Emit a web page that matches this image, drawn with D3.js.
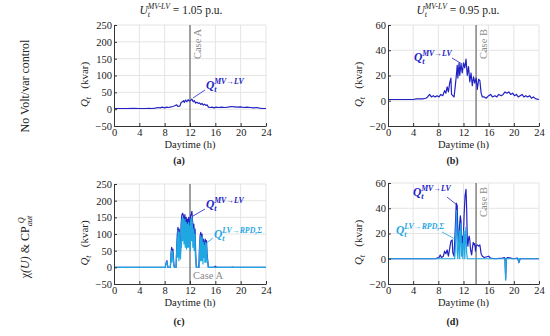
<!DOCTYPE html>
<html>
  <head>
    <title></title>
    <style>
      body, html{
        margin: 0;
        width: 100%;
        height: 100%;
        background: #fff;
      }
      svg text{
        font-family: "Liberation Serif", "DejaVu Serif", serif;
        fill: #222;
      }
      .grid line{
        stroke: #e4e4e4;
        stroke-width: 1;
      }
      .axis path, .axis line{
        stroke: #333;
      }
      .axis text{
        font-size: 10.5px;
      }
    </style>
  </head>
  <body>
    <script src="https://cdn.jsdelivr.net/npm/d3@7"></script>
    <script>

// time [h], reactive power [kvar]
var xTicks = [0, 4, 8, 12, 16, 20, 24]
var yTicksA = [-50, 0, 50, 100, 150, 200, 250]
var yTicksB = [-20, 0, 20, 40, 60]

var mvA = [[0,2],[1,2],[2,2],[3,2.5],[4,2],[5,2],[5.5,2.5],[6,2],[6.5,3],[7,5],[7.3,4],[7.6,6],[8,4],[8.3,6],[8.6,5],[9,7],[9.3,8],[9.6,10],[9.9,13],[10.1,8],[10.4,9],[10.6,20],[10.8,22],[11,25],[11.1,20],[11.3,27],[11.5,22],[11.7,28],[11.9,24],[12.1,26],[12.3,30],[12.5,22],[12.7,25],[12.9,18],[13.1,21],[13.3,17],[13.5,19],[13.7,14],[13.9,17],[14.1,12],[14.3,15],[14.5,11],[14.7,13],[14.9,6],[15.2,5],[15.5,6],[15.8,4],[16.1,6],[16.5,5],[17,6],[17.5,5],[18,6],[18.5,8],[19,7],[19.5,6],[20,7],[20.5,5],[21,6],[21.5,5],[22,4],[22.5,5],[23,3],[23.5,2],[24,2]]

var mvB = [[0,1],[1,1],[2,1],[3,1],[4,1],[4.5,1.5],[5,1.5],[5.5,1.5],[6,2],[6.3,3],[6.6,5],[6.9,3],[7.2,4],[7.5,3],[7.8,4],[8.1,3],[8.4,5],[8.7,4],[9,8],[9.2,6],[9.4,11],[9.6,7],[9.8,14],[10,18],[10.1,5],[10.3,4],[10.5,3],[10.7,12],[10.9,22],[11,28],[11.1,18],[11.3,30],[11.4,20],[11.6,29],[11.8,22],[12,30],[12.2,26],[12.4,33],[12.6,20],[12.8,27],[13,15],[13.2,22],[13.4,12],[13.6,19],[13.8,14],[14,18],[14.2,9],[14.4,17],[14.6,16],[14.8,6],[15,3],[15.3,3],[15.6,2],[16,4],[16.3,5],[16.6,3],[17,4],[17.3,3],[17.6,5],[18,4],[18.3,5],[18.6,7],[18.9,6],[19.2,7],[19.5,5],[19.8,6],[20.1,4],[20.4,5],[20.7,3],[21,4],[21.3,5],[21.6,3],[21.9,4],[22.2,3],[22.5,4],[22.8,2],[23.1,3],[23.5,1.5],[24,1]]

var mvC = [[0,0],[8.1,0],[8.2,12],[8.35,20],[8.5,0],[8.9,0],[9,40],[9.1,60],[9.2,45],[9.3,55],[9.45,10],[9.55,0],[9.8,0],[9.9,60],[10,100],[10.1,120],[10.2,90],[10.3,115],[10.4,60],[10.5,40],[10.6,130],[10.7,155],[10.8,162],[10.9,160],[11,150],[11.1,140],[11.2,158],[11.3,110],[11.4,150],[11.5,95],[11.6,145],[11.7,120],[11.8,150],[11.9,80],[12,140],[12.1,155],[12.2,160],[12.3,168],[12.4,140],[12.5,110],[12.6,130],[12.7,95],[12.8,115],[12.9,40],[13,0],[13.4,0],[13.5,60],[13.6,95],[13.7,105],[13.8,80],[13.9,100],[14,55],[14.1,85],[14.2,40],[14.3,75],[14.4,85],[14.5,70],[14.6,80],[14.7,40],[14.8,20],[14.9,0],[15.8,0],[16,3],[16.2,0],[18.5,0],[18.7,1],[18.9,0],[24,0]]

var lvC = [[0,0],[8.1,0],[8.2,10],[8.35,17],[8.5,0],[8.9,0],[9,35],[9.1,50],[9.15,15],[9.25,48],[9.45,5],[9.55,0],[9.8,0],[9.9,50],[10,90],[10.05,30],[10.1,110],[10.2,75],[10.25,20],[10.3,105],[10.4,40],[10.5,25],[10.6,120],[10.65,60],[10.7,140],[10.8,150],[10.85,80],[10.9,148],[11,130],[11.05,70],[11.1,125],[11.2,145],[11.25,60],[11.3,100],[11.4,135],[11.45,55],[11.5,85],[11.6,130],[11.65,60],[11.7,105],[11.8,135],[11.85,60],[11.9,70],[12,125],[12.05,50],[12.1,140],[12.2,145],[12.25,80],[12.3,150],[12.4,120],[12.45,60],[12.5,95],[12.6,115],[12.65,50],[12.7,85],[12.8,100],[12.85,30],[12.9,30],[13,0],[13.45,0],[13.5,50],[13.6,85],[13.65,20],[13.7,95],[13.8,65],[13.85,20],[13.9,90],[14,45],[14.05,10],[14.1,75],[14.2,30],[14.3,65],[14.35,15],[14.4,75],[14.5,60],[14.55,15],[14.6,70],[14.7,30],[14.8,15],[14.9,0],[24,0]]

var mvD = [[0,0],[7.5,0],[7.8,0.5],[8.1,1],[8.3,3],[8.5,1],[8.8,2],[9,6],[9.2,4],[9.4,7],[9.6,2],[9.8,8],[10,14],[10.2,15],[10.3,5],[10.5,2],[10.7,25],[10.85,44],[11,42],[11.1,20],[11.2,8],[11.35,25],[11.5,34],[11.6,30],[11.7,12],[11.8,18],[11.9,8],[12,20],[12.1,35],[12.25,50],[12.4,55],[12.5,40],[12.6,15],[12.7,10],[12.8,16],[12.9,18],[13,15],[13.1,8],[13.2,5],[13.3,3],[13.4,8],[13.55,13],[13.7,11],[13.8,12],[13.9,6],[14,10],[14.2,11],[14.4,10],[14.6,11],[14.8,4],[15,2],[15.3,1],[16,2],[16.3,0.5],[17,0],[18.2,0.5],[18.5,1],[18.6,0],[18.7,-16],[18.8,0],[19,1],[19.5,0.5],[20,0],[20.6,0.5],[20.8,-3],[21,0],[24,0]]

var lvD = [[0,0],[10.6,0],[10.7,8],[10.8,25],[10.9,38],[11,5],[11.1,0],[11.2,10],[11.3,22],[11.4,0],[11.5,20],[11.6,28],[11.7,2],[11.8,12],[11.9,0],[12,15],[12.1,22],[12.2,0],[12.3,18],[12.4,25],[12.5,5],[12.6,0],[18.6,0],[18.7,-17],[18.8,0],[20.7,0],[20.8,-3],[20.9,0],[24,0]]

var darkBlue = '#2222c4', cyan = '#1fa7e2', caseGrey = '#8a8a8a'

var svg = d3.select('body').append('svg').attr('width', 550).attr('height', 336)

// sub/superscript helper: parts = [[text, 'n'|'sub'|'sup', style]]
// a 'sup' right after a 'sub' is stacked above it
function richText(g, x, y, parts, opts){
  var t = g.append('text').attr('x', x).attr('y', y)
    .attr('text-anchor', opts.anchor || 'start')
    .style('font-size', opts.size + 'px')
  if(opts.transform) t.attr('transform', opts.transform)
  if(opts.fill) t.style('fill', opts.fill)
  if(opts.weight) t.style('font-weight', opts.weight)
  var shift = 0, prev = null, subLen = 0
  parts.forEach(function(p){
    var s = t.append('tspan').text(p[0])
    var dy = 0
    if(p[1] == 'sub'){
      dy = 0.28 * opts.size - shift; shift = 0.28 * opts.size
      s.style('font-size', (opts.size * 0.7) + 'px')
      subLen = p[0].length * opts.size * 0.7 * 0.3
    }else if(p[1] == 'sup'){
      dy = -0.45 * opts.size - shift; shift = -0.45 * opts.size
      s.style('font-size', (opts.size * 0.68) + 'px')
      if(prev == 'sub') s.attr('dx', -subLen)
    }else{ dy = -shift; shift = 0 }
    if(dy) s.attr('dy', dy)
    if(p[2] == 'i') s.style('font-style', 'italic')
    prev = p[1]
  })
  return t
}

function panel(o){
  var x = d3.scaleLinear().domain([0, 24]).range([o.left, o.right])
  var y = d3.scaleLinear().domain(o.ydom).range([o.bottom, o.top])
  var g = svg.append('g')

  var grid = g.append('g').attr('class', 'grid')
  grid.selectAll('.gx').data(xTicks.slice(1)).enter().append('line')
    .attr('x1', x).attr('x2', x).attr('y1', o.top).attr('y2', o.bottom)
  grid.selectAll('.gy').data(o.yticks.slice(1)).enter().append('line')
    .attr('x1', o.left).attr('x2', o.right).attr('y1', y).attr('y2', y)

  var line = d3.line().x(function(d){ return x(d[0]) }).y(function(d){ return y(d[1]) })

  g.append('line').attr('x1', x(o.caseAt)).attr('x2', x(o.caseAt))
    .attr('y1', o.top).attr('y2', o.bottom)
    .style('stroke', caseGrey).style('stroke-width', 1.6)

  o.series.forEach(function(s){
    g.append('path').datum(s.data).attr('d', line)
      .style('fill', 'none').style('stroke', s.color).style('stroke-width', 1.2)
      .style('stroke-linejoin', 'round')
  })

  g.append('g').attr('class', 'axis').attr('transform', 'translate(0,' + o.bottom + ')')
    .call(d3.axisBottom(x).tickValues(xTicks).tickSize(-3).tickPadding(3).tickSizeOuter(0))
  g.append('g').attr('class', 'axis').attr('transform', 'translate(' + o.left + ',0)')
    .call(d3.axisLeft(y).tickValues(o.yticks).tickSize(-3).tickPadding(2).tickSizeOuter(0)
      .tickFormat(function(d){ return d < 0 ? '\u2212' + (-d) : d }))
  g.selectAll('.axis').attr('font-family', null)
  g.selectAll('.axis text').style('fill', '#222')

  g.append('text').attr('x', (o.left + o.right) / 2).attr('y', o.bottom + 22)
    .attr('text-anchor', 'middle').style('font-size', '10.5px').text('Daytime (h)')

  var cy = (o.top + o.bottom) / 2 + 9, lx = o.left - 26
  richText(g, lx, cy, [['Q', 'n', 'i'], ['t', 'sub', 'i'], ['\u00a0\u00a0\u00a0(kvar)', 'n']],
    {size: 11, anchor: 'middle', transform: 'rotate(-90,' + lx + ',' + cy + ')'})

  g.append('text').attr('x', (o.left + o.right) / 2 - 11).attr('y', o.caption)
    .attr('text-anchor', 'middle').style('font-size', '10px').style('font-weight', 'bold').text(o.label)

  // case marker text
  var cx = x(o.caseAt)
  if(o.caseBottom){
    g.append('text').attr('x', cx + 3).attr('y', o.bottom - 5).style('font-size', '10.5px')
      .style('fill', caseGrey).text(o.caseText)
  }else{
    var ty = o.top + 4
    g.append('text').attr('x', cx + 11).attr('y', ty).attr('text-anchor', 'end')
      .attr('transform', 'rotate(-90,' + (cx + 11) + ',' + ty + ')')
      .style('font-size', '10.5px').style('fill', caseGrey).text(o.caseText)
  }

  o.notes.forEach(function(n){
    g.append('line').attr('x1', n.from[0]).attr('y1', n.from[1]).attr('x2', n.to[0]).attr('y2', n.to[1])
      .style('stroke', n.color).style('stroke-width', 0.8)
    richText(g, n.at[0], n.at[1], [['Q', 'n', 'i'], ['t', 'sub', 'i'], [n.sup, 'sup', 'i']],
      {size: 11.5, fill: n.color, weight: 'bold'})
  })
  return g
}

var mvNote = 'MV\u2192LV', lvNote = 'LV\u2192RPD,\u03a3'

panel({left: 114, right: 266, top: 25, bottom: 126, ydom: [-50, 250], yticks: yTicksA,
  caseAt: 12, caseText: 'Case A', caption: 164, label: '(a)',
  series: [{data: mvA, color: darkBlue}],
  notes: [{at: [206, 89], sup: mvNote, color: darkBlue, from: [205, 90], to: [193, 98]}]})

panel({left: 388, right: 539, top: 25, bottom: 126, ydom: [-20, 60], yticks: yTicksB,
  caseAt: 14, caseText: 'Case B', caption: 164, label: '(b)',
  series: [{data: mvB, color: darkBlue}],
  notes: [{at: [414, 61], sup: mvNote, color: darkBlue, from: [452, 58], to: [462, 64]}]})

panel({left: 114, right: 266, top: 184, bottom: 284, ydom: [-50, 250], yticks: yTicksA,
  caseAt: 12, caseText: 'Case A', caseBottom: true, caption: 325, label: '(c)',
  series: [{data: mvC, color: darkBlue}, {data: lvC, color: cyan}],
  notes: [{at: [206, 208], sup: mvNote, color: darkBlue, from: [205, 209], to: [193, 216]},
          {at: [214, 238], sup: lvNote, color: cyan, from: [213, 238], to: [205, 244]}]})

panel({left: 388, right: 539, top: 183, bottom: 284, ydom: [-20, 60], yticks: yTicksB,
  caseAt: 14, caseText: 'Case B', caption: 325, label: '(d)',
  series: [{data: mvD, color: darkBlue}, {data: lvD, color: cyan}],
  notes: [{at: [413, 196], sup: mvNote, color: darkBlue, from: [447, 197], to: [457, 205]},
          {at: [396, 234], sup: lvNote, color: cyan, from: [442, 232], to: [455, 239]}]})

// column titles
richText(svg, 181, 14, [['U', 'n', 'i'], ['t', 'sub', 'i'], ['MV-LV', 'sup', 'i'], ['\u00a0= 1.05 p.u.', 'n']],
  {size: 11.5, anchor: 'middle'})
richText(svg, 458, 14, [['U', 'n', 'i'], ['t', 'sub', 'i'], ['MV-LV', 'sup', 'i'], ['\u00a0= 0.95 p.u.', 'n']],
  {size: 11.5, anchor: 'middle'})

// row titles
svg.append('text').attr('x', 29).attr('y', 86).attr('text-anchor', 'middle')
  .attr('transform', 'rotate(-90,29,86)').style('font-size', '12px').text('No Volt/var control')
richText(svg, 29, 247, [['\u03c7', 'n'], ['(U)', 'n', 'i'], ['\u00a0& CP', 'n'], ['aut', 'sub', 'i'], ['Q', 'sup', 'i']],
  {size: 12, anchor: 'middle', transform: 'rotate(-90,29,247)'})

    </script>
  </body>
</html>
